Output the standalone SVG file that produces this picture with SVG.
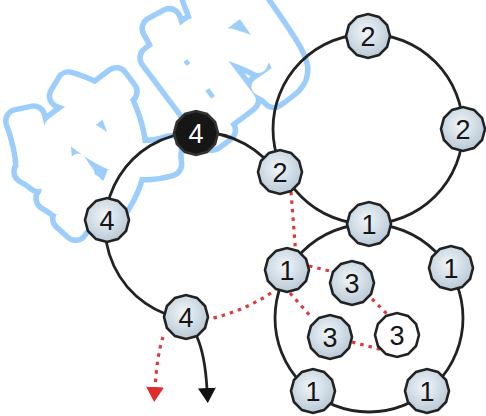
<svg xmlns="http://www.w3.org/2000/svg" xmlns:xlink="http://www.w3.org/1999/xlink" width="486" height="416" viewBox="0 0 486 416">
<style>
.ring{fill:none;stroke:#222;stroke-width:2.8}
.red{fill:none;stroke:#d83c3c;stroke-width:3.2;stroke-dasharray:3.5 5}
.node{fill:url(#ng);stroke:#222;stroke-width:2.6}
.blk{fill:#161616;stroke:#333;stroke-width:2.6}
.wht{fill:#fff;stroke:#222;stroke-width:2.6}
.lbl{font-family:"Liberation Sans",Arial,sans-serif;font-size:27px;text-anchor:middle;fill:#151515}
.wm{font-family:"Noto Sans CJK SC",sans-serif;font-weight:700;font-size:136px;text-anchor:middle;dominant-baseline:central;stroke-linejoin:round}
.wm1{fill:#9ccdfb;stroke:#9ccdfb;stroke-width:28}
.wm2{fill:#fff;stroke:#fff;stroke-width:17}
</style>
<defs>
<radialGradient id="ng" cx="0.45" cy="0.4" r="0.65">
<stop offset="0" stop-color="#f2f6f9"/>
<stop offset="1" stop-color="#b3c5d3"/>
</radialGradient>
<polygon id="dec" points="22,0 19.05,11 11,19.05 0,22 -11,19.05 -19.05,11 -22,0 -19.05,-11 -11,-19.05 0,-22 11,-19.05 19.05,-11"/>
<marker id="ab" viewBox="0 0 16 18" refX="1" refY="9" markerWidth="16" markerHeight="18" markerUnits="userSpaceOnUse" orient="auto">
<path d="M0,0 L15,9 L0,18 z" fill="#111"/>
</marker>
<marker id="ar" viewBox="0 0 16 18" refX="1" refY="9" markerWidth="16" markerHeight="18" markerUnits="userSpaceOnUse" orient="auto">
<path d="M0,0 L15,9 L0,18 z" fill="#e02b2b"/>
</marker>
</defs>
<rect width="486" height="416" fill="#fff"/>
<g id="watermark">
<text class="wm wm1" transform="translate(84,142) rotate(-37)">纹</text>
<text class="wm wm1" transform="translate(218,50) rotate(-37)">的</text>
<text class="wm wm2" transform="translate(84,142) rotate(-37)">纹</text>
<text class="wm wm2" transform="translate(218,50) rotate(-37)">的</text>
</g>
<g id="connectors">
<path class="ring" d="M276.9,173.4 A94,94 0 1 0 185.9,319.1"/>
<circle class="ring" cx="368" cy="129" r="95"/>
<circle class="ring" cx="369" cy="318" r="94"/>
<path class="ring" d="M197,337 Q205,355 207,389" marker-end="url(#ab)"/>
<path class="red" d="M163,337 Q157,355 155,388" marker-end="url(#ar)"/>
<path class="red" d="M291,192 L296,256"/>
<path class="red" d="M271,293 Q242,312 209,319"/>
<path class="red" d="M309,266 L330,271"/>
<path class="red" d="M290,293 L312,318"/>
<path class="red" d="M372,299 L387,314"/>
<path class="red" d="M352,342 L383,350"/>
</g>
<g id="n_a1" transform="translate(196,133)"><use xlink:href="#dec" class="blk"/><text class="lbl" y="9.5" style="fill:#fff">4</text></g>
<g id="n_a2" transform="translate(107,220)"><use xlink:href="#dec" class="node"/><text class="lbl" y="9.5">4</text></g>
<g id="n_a3" transform="translate(186,317)"><use xlink:href="#dec" class="node"/><text class="lbl" y="9.5">4</text></g>
<g id="n_b1" transform="translate(368,36)"><use xlink:href="#dec" class="node"/><text class="lbl" y="9.5">2</text></g>
<g id="n_b2" transform="translate(463,129)"><use xlink:href="#dec" class="node"/><text class="lbl" y="9.5">2</text></g>
<g id="n_b3" transform="translate(280,172)"><use xlink:href="#dec" class="node"/><text class="lbl" y="9.5">2</text></g>
<g id="n_c1" transform="translate(369,224)"><use xlink:href="#dec" class="node"/><text class="lbl" y="9.5">1</text></g>
<g id="n_c2" transform="translate(287,270)"><use xlink:href="#dec" class="node"/><text class="lbl" y="9.5">1</text></g>
<g id="n_c3" transform="translate(451,268)"><use xlink:href="#dec" class="node"/><text class="lbl" y="9.5">1</text></g>
<g id="n_c4" transform="translate(313,391)"><use xlink:href="#dec" class="node"/><text class="lbl" y="9.5">1</text></g>
<g id="n_c5" transform="translate(427,391)"><use xlink:href="#dec" class="node"/><text class="lbl" y="9.5">1</text></g>
<g id="n_d1" transform="translate(352,283)"><use xlink:href="#dec" class="node"/><text class="lbl" y="9.5">3</text></g>
<g id="n_d2" transform="translate(330,337)"><use xlink:href="#dec" class="node"/><text class="lbl" y="9.5">3</text></g>
<g id="n_d3" transform="translate(397,335)"><use xlink:href="#dec" class="wht"/><text class="lbl" y="9.5">3</text></g>
</svg>
